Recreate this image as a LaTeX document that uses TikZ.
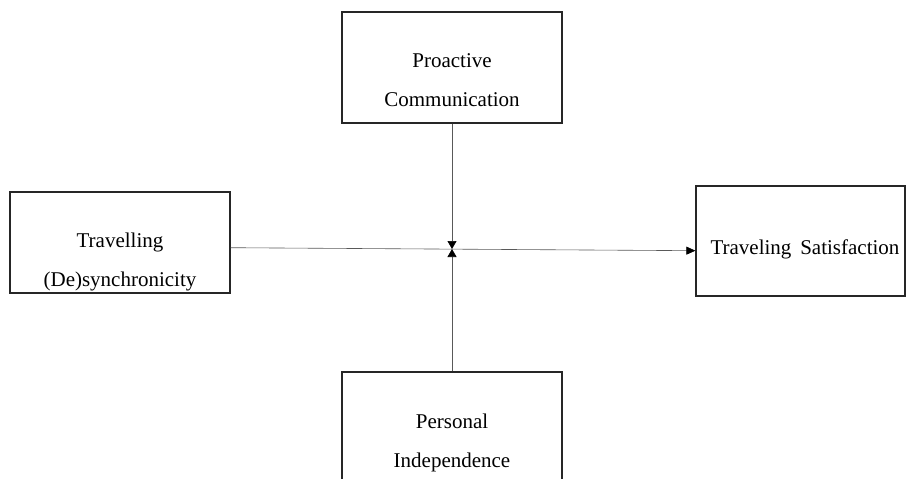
\documentclass[tikz,border=0pt]{standalone}
\usepackage{fontspec}
\setmainfont{Liberation Serif}
\usetikzlibrary{arrows.meta}

\begin{document}
\begin{tikzpicture}[x=1pt,y=1pt,yscale=-1,xscale=1,
  box/.style={draw=black!85, line width=1.2pt, align=center, inner sep=0pt, font=\fontsize{21}{39}\selectfont},
  link/.style={line width=0.6pt, draw=black!65},
  tip/.style={-{Triangle[length=8pt,width=9pt,color=black]}}]
%set diagram size
\useasboundingbox (0,0) rectangle (906,479);

%Shape: Rectangle [Proactive Communication]
\node [box, minimum width=220pt, minimum height=111pt, text height=77pt, text depth=0pt] (pc) at (452,67.5) {Proactive\\Communication};
%Shape: Rectangle [Travelling (De)synchronicity]
\node [box, minimum width=220pt, minimum height=101pt, text height=87pt, text depth=0pt] (td) at (120,242.5) {Travelling\\(De)synchronicity};
%Shape: Rectangle [Traveling Satisfaction]
\node [box, minimum width=209pt, minimum height=110pt, text height=26pt, text depth=0pt] (ts) at (800.5,241) {\hspace*{9pt}Traveling\hspace{0.42em}Satisfaction};
%Shape: Rectangle [Personal Independence]
\node [box, minimum width=220pt, minimum height=111pt, text height=79pt, text depth=0pt] (pi) at (452,427.5) {Personal\\Independence};

%Straight Lines
\coordinate (m) at (452,249);
\draw [link, -{Triangle[length=9pt,width=8pt,color=black]}] ([yshift=5.2pt]td.east) -- ([yshift=9.7pt]ts.west);
\draw [link, tip] (pc.south) -- (m);
\draw [link, tip] (pi.north) -- (m);

\end{tikzpicture}
\end{document}
